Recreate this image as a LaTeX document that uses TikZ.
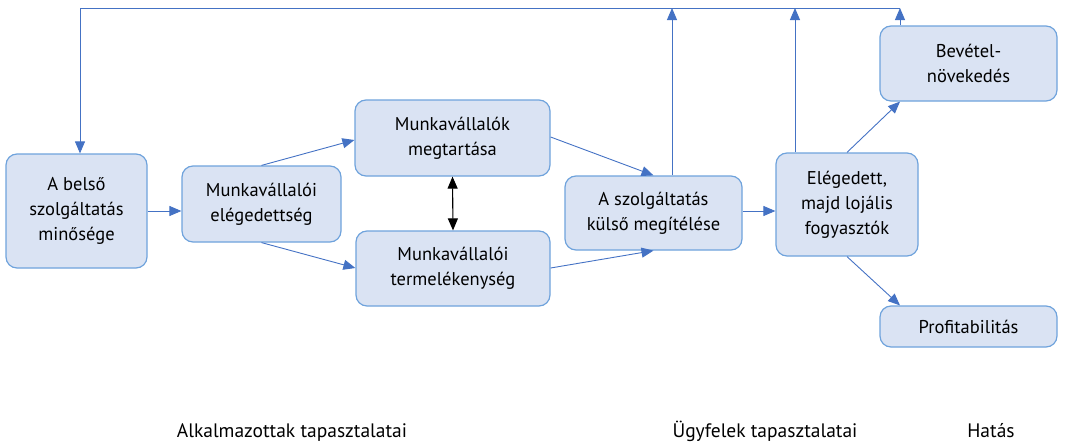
\documentclass[tikz,border=0pt]{standalone}
\usepackage{fontspec}
\setmainfont{PT Sans}
\usetikzlibrary{arrows.meta}
\definecolor{boxfill}{HTML}{DAE3F3}
\definecolor{boxline}{HTML}{6FA3DC}
\definecolor{arr}{HTML}{4472C4}
\begin{document}
\begin{tikzpicture}[x=1pt,y=-1pt,
  box/.style={draw=boxline,fill=boxfill,line width=1.2pt,rounded corners=11pt,align=center,font=\fontsize{18.5}{25}\selectfont,inner sep=0pt},
  conn/.style={draw=arr,line width=0.9pt,-{Triangle[length=12pt,width=10pt]}},
  lbl/.style={font=\fontsize{19.5}{22}\selectfont}]
\useasboundingbox (0,0) rectangle (1077,442);
\node[box,minimum width=141pt,minimum height=114pt] (bel) at (76.5,211) {A belső\\szolgáltatás\\minősége};
\node[box,minimum width=159pt,minimum height=76pt] (ele) at (261.5,204) {Munkavállalói\\elégedettség};
\node[box,minimum width=195pt,minimum height=76pt] (meg) at (452.5,138) {Munkavállalók\\megtartása};
\node[box,minimum width=194pt,minimum height=75pt] (ter) at (453,268.5) {Munkavállalói\\termelékenység};
\node[box,minimum width=177pt,minimum height=74pt] (szo) at (653.5,213) {A szolgáltatás\\külső megítélése};
\node[box,minimum width=142pt,minimum height=103pt] (elg) at (847,204.5) {Elégedett,\\majd lojális\\fogyasztók};
\node[box,minimum width=177pt,minimum height=75pt] (bev) at (968.5,63.5) {Bevétel-\\növekedés};
\node[box,minimum width=177pt,minimum height=41pt] (pro) at (968.5,326.5) {Profitabilitás};
\coordinate (tl) at (80,8);
\coordinate (t1) at (672,8);
\coordinate (t2) at (795,8);
\coordinate (t3) at (900,8);
\draw[draw=arr,line width=0.9pt] (t3) -- (tl);
\draw[conn] (tl) -- (bel.north -| tl);
\draw[conn] (szo.north -| t1) -- (t1);
\draw[conn] (elg.north -| t2) -- (t2);
\draw[conn] (bev.north -| t3) -- (t3);
\draw[conn] (bel.east |- 0,211) -- (ele.west |- 0,211);
\draw[conn] (ele.north) -- (meg.west |- 0,140);
\draw[conn] (ele.south) -- (ter.west |- 0,268);
\draw[conn] (meg.east |- 0,137) -- (szo.north);
\draw[conn] (ter.east |- 0,268) -- (szo.south);
\draw[conn] (szo.east |- 0,211) -- (elg.west |- 0,211);
\draw[conn] (elg.north) -- (bev.south -| t3);
\draw[conn] (elg.south) -- (pro.north -| t3);
\draw[line width=1.1pt,{Triangle[length=12pt,width=10pt]}-{Triangle[length=12pt,width=10pt]}] (meg.south) -- (ter.north);
\node[lbl,anchor=base] (l1) at (292,437) {Alkalmazottak tapasztalatai};
\node[lbl,anchor=base] (l2) at (765,437) {Ügyfelek tapasztalatai};
\node[lbl,anchor=base] (l3) at (991,437) {Hatás};
\end{tikzpicture}
\end{document}
